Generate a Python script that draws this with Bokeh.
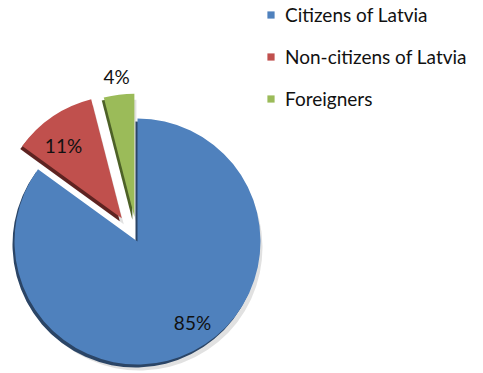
import math
from bokeh.plotting import figure
from bokeh.models import ColumnDataSource, Range1d, Legend, LegendItem
from bokeh.embed import file_html
from bokeh.resources import INLINE
from bokeh.core.properties import value

categories = ["Citizens of Latvia", "Non-citizens of Latvia", "Foreigners"]
shares = [85, 11, 4]
labels = ["85%", "11%", "4%"]
colors = ["#4F81BD", "#C0504D", "#9BBB59"]
depth_colors = ["#2b4566", "#5e2321", "#4d6127"]
explode = [0, 28, 25]

W, H = 483, 373
cx, cy = 137, 373 - 241
R = 123

p = figure(width=W, height=H, x_range=Range1d(0, W), y_range=Range1d(0, H),
           output_backend="svg", toolbar_location=None, min_border=0)
p.axis.visible = False
p.grid.visible = False
p.outline_line_color = None
p.background_fill_color = "white"

total = sum(shares)
# clockwise from 12 o'clock
starts, ends, xs, ys = [], [], [], []
ang = math.pi / 2
for s, e in zip(shares, explode):
    span = 2 * math.pi * s / total
    end_a = ang
    start_a = ang - span
    mid = (start_a + end_a) / 2
    starts.append(start_a)
    ends.append(end_a)
    xs.append(cx + e * math.cos(mid))
    ys.append(cy + e * math.sin(mid))
    ang = start_a

src = ColumnDataSource(dict(x=xs, y=ys, start=starts, end=ends, color=colors,
                            dcolor=depth_colors, cat=categories,
                            dx=[x - 2 for x in xs], dy=[y - 3 for y in ys],
                            sx=[x + 2 for x in xs], sy=[y - 6 for y in ys]))

# soft shadow
p.wedge(x="sx", y="sy", radius=R, start_angle="start", end_angle="end",
        fill_color="#c8c8c8", fill_alpha=0.55, line_color=None, source=src)
# depth
p.wedge(x="dx", y="dy", radius=R, start_angle="start", end_angle="end",
        fill_color="dcolor", line_color=None, source=src)
w = p.wedge(x="x", y="y", radius=R, start_angle="start", end_angle="end",
            fill_color="color", line_color=None, source=src)

# label positions (screen layout)
lx = [192, 63, 116]
ly = [373 - 322, 373 - 145, 373 - 76]
p.text(x=lx, y=ly, text=labels, text_align="center", text_baseline="middle",
       text_font=value("Lato"), text_font_size="19px", text_color="#111111")

items = [LegendItem(label=categories[i], renderers=[w], index=i) for i in range(3)]
legend = Legend(items=items, location=(266, 263), orientation="vertical",
                label_text_font="Lato", label_text_font_size="19px",
                label_text_color="#111111", glyph_width=9, glyph_height=9,
                label_height=22, spacing=19, padding=0, margin=0,
                label_standoff=10, border_line_color=None,
                background_fill_alpha=0)
p.add_layout(legend, "center")

open("out.html", "w").write(file_html(p, INLINE))
